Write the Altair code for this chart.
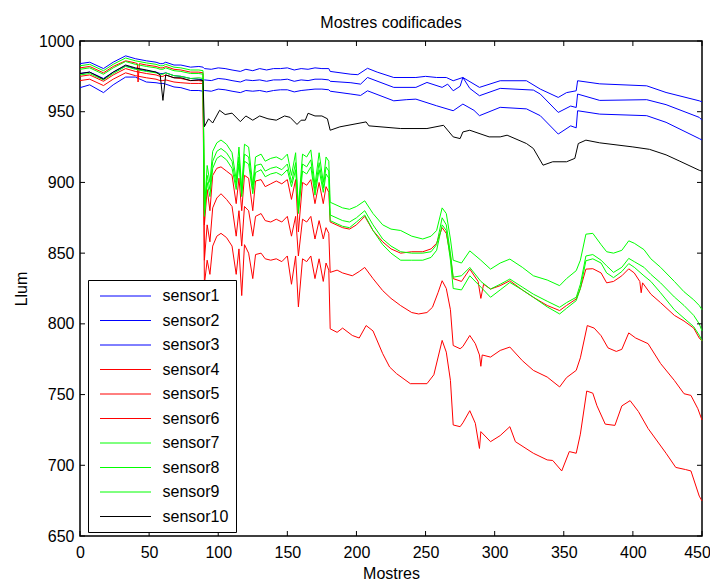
import altair as alt
import pandas as pd

FONT = "Liberation Sans"
SENSORS = [f"sensor{i}" for i in range(1, 11)]
COLORS = ["#0000ff"] * 3 + ["#ff0000"] * 3 + ["#00ff00"] * 3 + ["#000000"]
X_TICKS = list(range(0, 451, 50))
Y_TICKS = list(range(650, 1001, 50))

# ---- shared sample grids (Mostres) ----
G1 = [0, 7, 17, 24, 33, 40, 48, 55, 58, 60, 62, 68, 73, 80, 86, 89]
BX2 = [90, 95, 100, 105, 110, 116, 120, 125, 130, 135, 140, 145, 150, 155, 160, 165, 170, 175, 180]
X2 = [90, 92, 94, 96, 99, 102, 106, 110, 113, 115, 117, 119, 122, 125, 127, 131, 134, 138,
      142, 146, 150, 153, 156, 158, 161, 164, 167, 170, 173, 176, 178, 180]
X3 = [181, 190, 195, 200, 206, 212, 219, 225, 232, 240, 248, 254, 258, 262, 265, 268, 270,
      276, 282, 290, 297, 304, 311, 320, 328, 338, 347, 352, 359, 362, 366, 371, 377, 381,
      386, 392, 397, 401, 408, 413, 420, 430, 437, 444, 448, 450]

# ---- sensor1 (blue) ----
S1_X = G1 + BX2 + [181, 196, 201, 208, 215, 227, 243, 250, 258, 265, 270, 277, 289, 304, 323,
                   333, 346, 352, 359, 360, 376, 410, 424, 448, 450]
S1_Y = [984, 985, 980.5, 985, 989.5, 987.5, 986, 985, 984, 984, 985, 983, 983, 981.5, 982, 981.5,
        980.5, 980, 981, 980.5, 979.5, 978.5, 980, 979, 980.5, 979.5, 980.5, 980.5, 981, 979.5,
        980.5, 980, 981, 980.5, 980.5,
        978.5, 976.5, 976.2, 980.7, 978, 974.2, 974.2, 975, 974.2, 974.2, 971.9, 974.2, 967.2,
        971.9, 971.9, 966, 960.1, 963.5, 964.8, 971.9, 969.7, 968.3, 963.6, 957.7, 957]

# ---- sensor2 (blue) ----
S2_X = G1 + BX2 + [181, 196, 203, 208, 227, 243, 251, 262, 266, 270, 275, 277, 282, 289, 304,
                   328, 333, 346, 355, 359, 360, 376, 410, 424, 448, 450]
S2_Y = [977, 978, 973.5, 978, 982.5, 980.5, 979, 978, 977, 977, 977.5, 975.5, 975, 973.5, 973, 972.5,
        972.5, 972, 973.5, 973, 972, 971, 972.5, 972, 972.5, 971.5, 972.5, 972.5, 973, 971.5,
        972.5, 972, 973, 973, 972.5,
        971.5, 970.5, 969.5, 974.2, 967.2, 967.2, 970.7, 967.2, 969.5, 964.8, 968, 974.2, 966.5,
        961.3, 966.5, 965.3, 962.5, 949.5, 954, 953, 962.5, 958, 958.5, 955, 946, 944]

# ---- sensor3 (blue) ----
S3_X = G1 + BX2 + [181, 196, 203, 208, 227, 236, 243, 258, 270, 277, 285, 289, 304, 323, 333,
                   346, 355, 359, 360, 376, 410, 424, 448, 450]
S3_Y = [967, 969, 963.5, 969, 974.5, 974.5, 971, 970.5, 970, 970, 969.5, 967.5, 967, 965, 965, 964.5,
        965, 964.5, 966, 965.5, 964.5, 963.5, 965, 964.5, 965, 964, 965, 965.5, 965.5, 964,
        965, 965.5, 966, 966, 965.5,
        964.5, 962.5, 961.5, 964.8, 957.7, 958.5, 958.9, 954.2, 950.7, 955.4, 951, 947.2, 953.1,
        952, 947.2, 934.2, 940, 938.6, 950.7, 948.3, 947.2, 942.5, 931, 930]

# ---- sensor4 (red, upper) ----
S4_X = [0, 7, 17, 24, 33, 40, 41.5, 42, 43, 48, 55, 58, 60, 62, 68, 73, 80, 86, 89] + X2 + \
       [181, 190, 195, 200, 206, 212, 219, 225, 232, 240, 248, 254, 258, 262, 265, 268, 270,
        276, 282, 288, 290, 292, 297, 304, 311, 320, 328, 338, 347, 352, 359, 362, 366, 371,
        377, 381, 386, 392, 397, 401, 405, 406, 407, 413, 420, 430, 437, 444, 448, 450]
S4_Y = [981, 982, 977.5, 982, 986, 984.5, 984, 971, 984, 983, 982, 981, 981, 982, 980, 979.5, 978, 978, 977.5,
        870, 895, 880, 905, 910, 911, 908, 905, 885, 903, 880, 905, 903, 880, 901, 902, 897, 899,
        901, 899, 902, 888, 902, 865, 900, 898, 902, 885, 900, 885, 897, 893,
        872, 868, 867, 870, 876, 866, 858, 853, 850, 851, 851, 853, 857, 868, 864, 848, 832,
        830, 838.7, 830, 818, 828, 824.6, 827, 830.5, 824, 818.8, 813, 809.4, 813, 817.6, 825,
        838.7, 839, 836, 829, 830, 834, 838.9, 836, 830, 822, 829, 821, 815, 806, 802, 797, 790, 788]

# ---- sensor5 (red, middle) ----
S5_X = G1 + X2 + [181, 186, 190, 197, 202, 206, 212, 219, 225, 232, 240, 245, 251, 255, 259, 262,
                  265, 268, 270, 275, 277, 282, 286, 289, 290, 291, 297, 304, 311, 320, 328, 338,
                  347, 352, 359, 362, 367, 372, 377, 382, 388, 392, 397, 402, 411, 420, 430, 437,
                  442, 447, 450]
S5_Y = [975, 976, 971.5, 976, 980.5, 978.5, 977, 976, 975, 975, 976, 974, 973.5, 972, 972, 971.5,
        845, 870, 858, 882, 889, 892, 888, 883, 862, 880, 855, 883, 880, 862, 876, 878, 873, 872,
        874, 872, 876, 862, 876, 848, 874, 872, 876, 860, 873, 860, 868, 864,
        836.4, 838, 836, 834, 837, 839.9, 832, 823.5, 818, 812.9, 808, 807, 808, 811.7, 822, 830.5,
        825, 810, 784.7, 782.4, 784, 791.8, 786, 778, 770, 778, 776.5, 781.2, 783.6, 774, 767.1,
        762.4, 755.4, 762, 767.1, 776, 798.8, 797, 791.6, 783, 780.5, 782, 793.6, 790, 786, 772,
        760, 750.6, 749.4, 740, 732]

# ---- sensor6 (red, lower) ----
S6_X = G1 + X2 + [181, 186, 190, 197, 202, 207, 212, 219, 224, 229, 239, 246, 251, 256, 262, 265,
                  268, 270, 275, 277, 282, 286, 289, 290, 297, 304, 311, 315, 328, 338, 342, 348.5,
                  354, 359, 362, 366.6, 371, 374, 380, 387, 392, 398, 404, 411, 424, 431, 438, 442,
                  448, 450]
S6_Y = [972, 973, 968.5, 973, 977.5, 975.5, 974, 973, 972, 972, 972.5, 971, 970.5, 970, 970, 970,
        828, 845, 835, 855, 862, 864, 861, 855, 835, 853, 820, 856, 850, 832, 849, 850, 846, 845,
        846, 844, 848, 828, 848, 812, 846, 844, 848, 832, 846, 830, 843, 838,
        796.5, 794, 797, 791.8, 790, 798.8, 795, 778.9, 769.5, 764.8, 757.7, 757.7, 757.7, 764,
        788.3, 780, 760, 728.5, 727.3, 730, 738.6, 729.7, 711.9, 723.8, 716.7, 721, 727.3, 716.7,
        708.5, 703.8, 703.4, 696, 709.7, 708.5, 722, 752.5, 751, 742.1, 729.1, 728.2, 742, 745.7,
        738, 726, 708.5, 698.5, 697, 696, 678.2, 674.8]

# ---- sensor7 (green, upper) ----
S7_X = G1 + X2 + X3
S7_Y = [982.5, 983.5, 979, 983.5, 988, 986, 984.5, 983.5, 982.5, 982.5, 983.5, 981.5, 981, 979.5, 979.5, 979,
        880, 912, 900, 922, 928, 930, 927, 921, 902, 925, 895, 927, 925, 898, 918, 920, 915, 917,
        918, 916, 920, 905, 921, 882, 920, 918, 923, 898, 921, 900, 918, 915,
        886, 882, 881, 883, 887, 878, 870, 867, 866, 862, 860, 862, 866, 882, 878, 860, 845, 843,
        851.6, 845, 838.7, 843, 845.8, 840, 834, 831, 827, 832, 837.6, 845, 863.4, 864, 856, 851,
        850, 852, 858.7, 857, 852.5, 846, 840, 830, 822.7, 817, 813, 810]

# ---- sensor8 (green, middle) ----
S8_X = G1 + X2 + X3
S8_Y = [980, 981, 976.5, 981, 985.5, 983.5, 982, 981, 980, 980, 981, 979, 978.5, 977, 977, 976.5,
        878, 905, 895, 915, 922, 924, 921, 915, 898, 918, 892, 920, 918, 895, 912, 913, 908, 910,
        911, 909, 913, 900, 914, 880, 913, 911, 916, 894, 914, 896, 911, 908,
        877, 873, 872, 875, 880, 870, 860, 855, 851, 850, 850, 851, 856, 875, 870, 850, 833, 834,
        839.9, 830, 824.6, 828, 831.7, 826, 821, 816, 811.7, 815, 818.8, 828, 848, 849, 845, 841,
        836.4, 840, 846.3, 844, 840, 835, 829, 819, 813, 806, 800, 795]

# ---- sensor9 (green, lower) ----
S9_X = G1 + X2 + X3
S9_Y = [976, 977, 972.5, 977, 982, 980, 978.5, 977.5, 976.5, 976.5, 977.5, 975.5, 975, 973.5, 974, 973.5,
        876, 900, 890, 910, 917, 919, 916, 910, 895, 913, 890, 915, 913, 892, 907, 909, 904, 906,
        907, 905, 909, 897, 909, 878, 908, 906, 911, 891, 909, 893, 906, 903,
        873, 869, 868, 872, 877, 866, 856, 850, 845, 845, 845, 847, 852, 870, 866, 845, 825, 824,
        834, 826, 818.8, 824, 829.3, 824, 818.8, 812, 807, 811, 816.4, 825, 844.6, 846, 843, 836,
        832.7, 837, 842.6, 840, 834, 830, 822, 810, 804, 798, 792, 788]

# ---- sensor10 (black) ----
S10_X = G1 + [90, 93, 96, 101, 105, 110, 116, 120, 125, 130, 136, 142, 148, 152, 157, 160, 163,
              165, 170, 175, 179, 181, 188, 207, 209, 232, 251, 263, 270, 275, 277, 282, 296, 304,
              309, 323, 328, 335, 342, 352, 358, 360.5, 366, 376, 400, 412, 424, 434, 448, 450]
S10_Y = [977, 978, 973, 978, 983, 981, 979.5, 978, 976, 958, 976, 974, 974, 972, 972.5, 972,
         939.4, 945, 942, 951, 948, 949, 943, 947, 944, 947, 945, 944, 947, 946, 941, 944, 944,
         948.9, 947, 947, 945, 936.9, 939.3, 942.8, 940, 938.1, 938.1, 940.4, 932.2, 931, 935.7,
         936.9, 932.2, 932.2, 933.4, 927.5, 924, 912.2, 914.6, 914.6, 917, 927.5, 929.9, 928,
         925.1, 923.4, 919.5, 915, 908.6, 908]

SERIES = [(S1_X, S1_Y), (S2_X, S2_Y), (S3_X, S3_Y), (S4_X, S4_Y), (S5_X, S5_Y),
          (S6_X, S6_Y), (S7_X, S7_Y), (S8_X, S8_Y), (S9_X, S9_Y), (S10_X, S10_Y)]

rows = []
for name, (xs, ys) in zip(SENSORS, SERIES):
    assert len(xs) == len(ys), (name, len(xs), len(ys))
    for i, (x, y) in enumerate(zip(xs, ys)):
        rows.append({"sensor": name, "order": i, "x": x, "y": y})
df = pd.DataFrame(rows)

W, H = 622, 495
xscale = alt.Scale(domain=[0, 450], nice=False, zero=False)
yscale = alt.Scale(domain=[650, 1000], nice=False, zero=False)

AX = alt.Axis(values=X_TICKS, title="Mostres", ticks=False, domain=False, grid=False, format="d",
              labelFlush=False, labelOverlap=False, labelPadding=8, titlePadding=5,
              labelOffset={"condition": {"test": "datum.value == 450", "value": -5}, "value": 0})
AY = alt.Axis(values=Y_TICKS, title="Llum", ticks=False, domain=False, grid=False, format="d",
              labelFlush=False, labelOverlap=False, labelPadding=6, titlePadding=9)

lines = alt.Chart(df).mark_line(strokeWidth=1).encode(
    x=alt.X("x:Q", scale=xscale, axis=AX, title="Mostres"),
    y=alt.Y("y:Q", scale=yscale, axis=AY, title="Llum"),
    color=alt.Color("sensor:N", sort=SENSORS,
                    scale=alt.Scale(domain=SENSORS, range=COLORS),
                    legend=alt.Legend(title=None, orient="none", legendX=8, legendY=239,
                                      symbolType="M-3,0H3", symbolSize=289, symbolStrokeWidth=1,
                                      symbolOffset=21.5, labelOffset=28, labelFont=FONT,
                                      labelFontSize=16, labelColor="black", labelLimit=200,
                                      rowPadding=7.5, padding=7, strokeColor="black",
                                      fillColor="white", cornerRadius=0)),
    order="order:Q",
)

xt = pd.DataFrame({"x": X_TICKS})
yt = pd.DataFrame({"y": Y_TICKS})
tick_bottom = alt.Chart(xt).mark_rule(color="black", strokeWidth=1).encode(
    x=alt.X("x:Q", scale=xscale, axis=AX, title="Mostres"), y=alt.value(H), y2=alt.value(H - 5))
tick_top = alt.Chart(xt).mark_rule(color="black", strokeWidth=1).encode(
    x=alt.X("x:Q", scale=xscale, axis=AX, title="Mostres"), y=alt.value(0), y2=alt.value(5))
tick_left = alt.Chart(yt).mark_rule(color="black", strokeWidth=1).encode(
    y=alt.Y("y:Q", scale=yscale, axis=AY, title="Llum"), x=alt.value(0), x2=alt.value(5))
tick_right = alt.Chart(yt).mark_rule(color="black", strokeWidth=1).encode(
    y=alt.Y("y:Q", scale=yscale, axis=AY, title="Llum"), x=alt.value(W), x2=alt.value(W - 5))

chart = alt.layer(lines, tick_bottom, tick_top, tick_left, tick_right).properties(
    width=W, height=H,
    title=alt.TitleParams("Mostres codificades", font=FONT, fontSize=16, fontWeight="normal",
                          color="black", offset=2),
    autosize=alt.AutoSizeParams(type="none"),
    padding={"left": 72, "top": 33, "right": 8, "bottom": 45},
).configure_view(stroke="black", strokeWidth=1.5).configure_axis(
    labelFont=FONT, labelFontSize=16, labelColor="black",
    titleFont=FONT, titleFontSize=16, titleFontWeight="normal", titleColor="black",
)

chart.save("out.html", embed_options={"renderer": "svg", "actions": False})
